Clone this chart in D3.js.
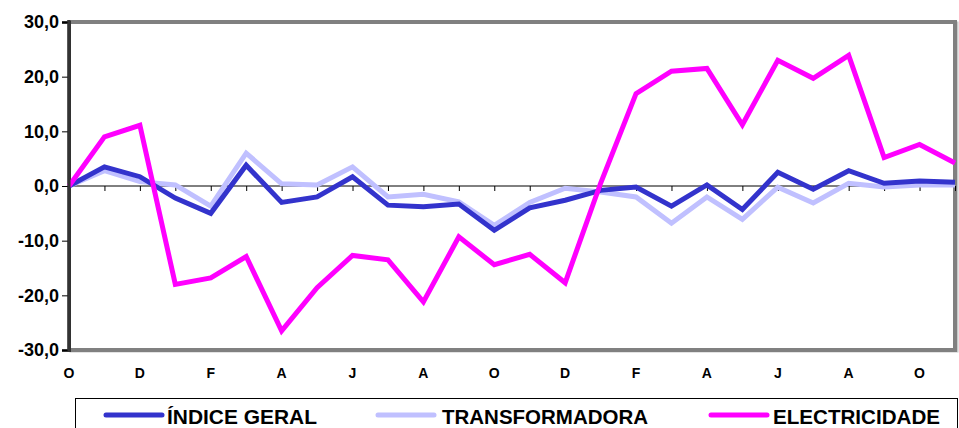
<!DOCTYPE html>
<html>
<head>
<meta charset="utf-8">
<script src="https://cdn.jsdelivr.net/npm/d3@7"></script>
<style>
  body { margin: 0; background: #fff; }
  svg { display: block; font-family: Arial, "Liberation Sans", sans-serif; font-weight: bold; }
</style>
</head>
<body>
<div id="chart"></div>
<script>
// data
const months = ["O","N","D","J","F","M","A","M","J","J","A","S","O","N","D","J","F","M","A","M","J","J","A","S","O","N"];
const indiceGeral = [0, 3.5, 1.7, -2.2, -5.0, 3.8, -3.0, -2.0, 1.7, -3.5, -3.8, -3.3, -8.1, -4.0, -2.6, -0.8, -0.2, -3.7, 0.2, -4.3, 2.5, -0.6, 2.8, 0.5, 0.9, 0.7];
const transformadora = [0, 2.8, 0.8, 0.2, -3.7, 6.0, 0.4, 0.2, 3.5, -2.0, -1.5, -2.9, -7.2, -3.0, -0.4, -1.1, -2.0, -6.8, -2.0, -6.1, -0.2, -3.1, 0.5, -0.2, 0.2, 0.2];
const electricidade = [0, 9.0, 11.1, -18.0, -16.8, -12.9, -26.5, -18.6, -12.7, -13.5, -21.2, -9.3, -14.4, -12.5, -17.7, 0.5, 16.9, 21.0, 21.5, 11.2, 23.0, 19.7, 23.9, 5.2, 7.6, 4.2];
const yTicks = [-30, -20, -10, 0, 10, 20, 30];

const seriesNames = ["ÍNDICE GERAL", "TRANSFORMADORA", "ELECTRICIDADE"];
const seriesColors = ["#3333cc", "#c0c0ff", "#ff00ff"];
const seriesData = [indiceGeral, transformadora, electricidade];

const width = 959, height = 428;
const svg = d3.select("#chart").append("svg")
  .attr("width", width)
  .attr("height", height);

const x = d3.scalePoint()
  .domain(d3.range(months.length))
  .range([69, 955]);
const y = d3.scaleLinear()
  .domain([-30, 30])
  .range([350, 22]);

// plot frame (grey border with shadow, Excel style)
svg.append("rect")
  .attr("x", 71).attr("y", y(30) + 1)
  .attr("width", 955 - 69).attr("height", y(-30) - y(30))
  .attr("fill", "none")
  .attr("stroke", "#c8c8c8")
  .attr("stroke-width", 3);
svg.append("rect")
  .attr("x", 69).attr("y", y(30))
  .attr("width", 955 - 69).attr("height", y(-30) - y(30))
  .attr("fill", "#fff")
  .attr("stroke", "#808080")
  .attr("stroke-width", 4);

// y axis
const yAxis = svg.append("g")
  .attr("transform", "translate(69,0)")
  .call(d3.axisLeft(y).tickValues(yTicks).tickSize(7).tickPadding(3)
    .tickFormat(d => d3.format(".1f")(d).replace(".", ",").replace("−", "-")));
yAxis.select(".domain").attr("stroke", "#333").attr("stroke-width", 3);
yAxis.selectAll("line").attr("stroke", "#000");
yAxis.selectAll("text")
  .attr("font-size", 18).attr("font-weight", "bold").attr("fill", "#000")
  .attr("font-family", "Arial, 'Liberation Sans', sans-serif");

// zero line with month ticks
const xAxis = svg.append("g")
  .attr("transform", `translate(0,${y(0)})`)
  .call(d3.axisBottom(x).tickSize(5).tickFormat(""));
xAxis.select(".domain").attr("stroke", "#000").attr("stroke-width", 1).attr("d", `M69,0H955`);
xAxis.selectAll("line").attr("stroke", "#000");

// month labels at the bottom
svg.append("g").selectAll("text")
  .data(months.map((m, i) => ({ m, i })).filter(d => d.i % 2 === 0))
  .enter().append("text")
  .attr("x", d => x(d.i))
  .attr("y", 378)
  .attr("text-anchor", "middle")
  .attr("font-size", 14)
  .text(d => d.m);

// lines
const line = d3.line()
  .x((d, i) => x(i))
  .y(d => y(d))
  .curve(d3.curveLinear);

const drawOrder = [1, 0, 2];
svg.append("g").selectAll("path.series")
  .data(drawOrder)
  .enter().append("path")
  .attr("class", "series")
  .attr("d", k => line(seriesData[k]))
  .attr("fill", "none")
  .attr("stroke", k => seriesColors[k])
  .attr("stroke-width", 5)
  .attr("stroke-linejoin", "miter");

// redraw left axis on top
svg.append("line")
  .attr("x1", 69).attr("x2", 69)
  .attr("y1", y(30) - 2).attr("y2", y(-30) + 2)
  .attr("stroke", "#333").attr("stroke-width", 3);

// legend
svg.append("rect")
  .attr("x", 75.5).attr("y", 398.5)
  .attr("width", 882).attr("height", 40)
  .attr("fill", "#fff").attr("stroke", "#000").attr("stroke-width", 1);

const legendLineX = [106, 378, 711];
const legendTextX = [167, 442, 773];
const legendTextW = [150, 206, 167];
const legend = svg.append("g").selectAll("g")
  .data(seriesNames)
  .enter().append("g");
legend.append("line")
  .attr("x1", (d, i) => legendLineX[i])
  .attr("x2", (d, i) => legendLineX[i] + 56)
  .attr("y1", 415).attr("y2", 415)
  .attr("stroke", (d, i) => seriesColors[i])
  .attr("stroke-width", 5)
  .attr("stroke-linecap", "round");
legend.append("text")
  .attr("x", (d, i) => legendTextX[i])
  .attr("y", 424)
  .attr("font-size", 21)
  .attr("textLength", (d, i) => legendTextW[i])
  .attr("lengthAdjust", "spacingAndGlyphs")
  .text(d => d);
</script>
</body>
</html>
